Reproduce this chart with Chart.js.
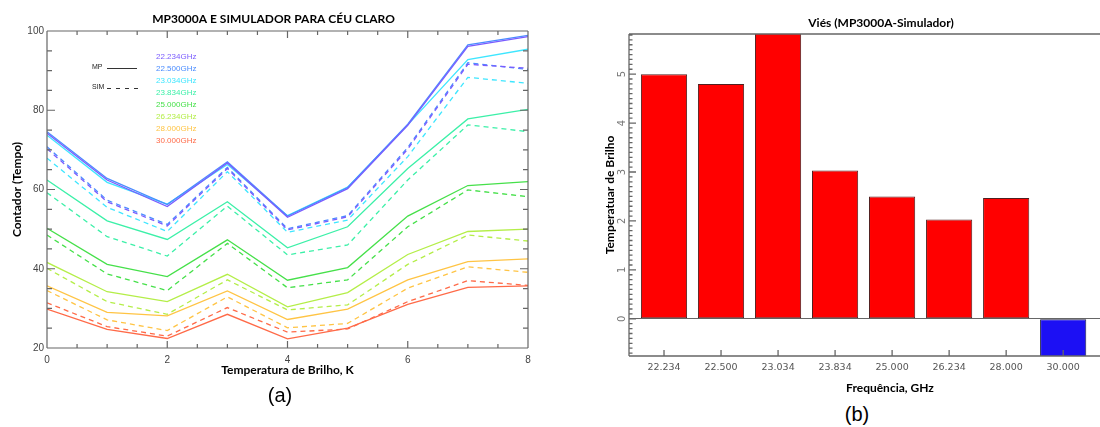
<!DOCTYPE html>
<html>
<head>
<meta charset="utf-8">
<script src="https://cdn.jsdelivr.net/npm/chart.js@4.4.1/dist/chart.umd.min.js"></script>
<style>
    html, body { margin: 0; padding: 0; background: #fff; overflow: hidden; width: 1100px; height: 427px; }
    .wrap { position: absolute; }
    #wrapA { left: 0; top: 0; width: 547px; height: 385px; }
    #wrapB { left: 580px; top: 0; width: 602px; height: 400px; }
    .cap { position: absolute; font: 20px 'Liberation Sans', Arial, sans-serif; color: #000; transform: translate(-50%, -50%); }
</style>
</head>
<body>
<div class="wrap" id="wrapA"><canvas id="chartA"></canvas></div>
<div class="wrap" id="wrapB"><canvas id="chartB"></canvas></div>
<div class="cap" style="left:280px; top:395px;">(a)</div>
<div class="cap" style="left:857px; top:414px;">(b)</div>
<script>
// (a) contador vs temperatura de brilho
const tempX = [0, 1, 2, 3, 4, 5, 6, 7, 8];
const freqNames = ['22.234GHz', '22.500GHz', '23.034GHz', '23.834GHz', '25.000GHz', '26.234GHz', '28.000GHz', '30.000GHz'];
const freqColors = ['#7a5cff', '#4a8cff', '#3ee6ff', '#3cf0a8', '#46e04a', '#b4ee48', '#ffc444', '#ff6a48'];

const mp22234 = [74.2, 62.4, 55.7, 66.7, 53.0, 60.2, 76.2, 96.1, 98.6];
const mp22500 = [74.6, 62.8, 56.2, 67.0, 53.3, 60.5, 76.5, 96.5, 98.9];
const mp23034 = [73.7, 61.8, 56.3, 66.3, 53.4, 60.6, 76.3, 92.8, 95.4];
const mp23834 = [62.4, 52.1, 47.4, 56.9, 45.3, 50.6, 65.3, 77.8, 80.2];
const mp25000 = [50.2, 41.1, 38.0, 47.3, 37.1, 40.3, 53.3, 61.0, 62.0];
const mp26234 = [41.6, 34.2, 31.7, 38.6, 30.4, 34.0, 43.6, 49.4, 50.0];
const mp28000 = [35.7, 29.0, 28.1, 34.4, 27.2, 29.8, 37.2, 41.8, 42.5];
const mp30000 = [29.8, 24.7, 22.4, 28.5, 22.3, 25.0, 31.0, 35.3, 35.7];

const sim22234 = [70.3, 56.9, 50.8, 65.3, 49.8, 53.1, 70.2, 91.6, 90.6];
const sim22500 = [70.8, 57.3, 51.2, 65.6, 50.1, 53.4, 70.6, 92.0, 90.3];
const sim23034 = [67.9, 55.5, 49.4, 64.5, 49.2, 52.3, 68.3, 88.3, 86.8];
const sim23834 = [59.2, 48.1, 43.2, 55.8, 43.5, 46.0, 62.4, 76.3, 74.6];
const sim25000 = [48.5, 38.7, 34.5, 46.4, 35.2, 37.2, 50.6, 59.9, 58.2];
const sim26234 = [40.1, 31.7, 28.5, 37.2, 29.6, 30.9, 41.1, 48.5, 47.0];
const sim28000 = [34.5, 27.1, 24.4, 32.9, 25.1, 26.2, 35.1, 40.5, 39.1];
const sim30000 = [31.4, 25.4, 23.0, 30.2, 24.0, 24.8, 31.7, 37.0, 35.8];

const mpSeries = [mp22234, mp22500, mp23034, mp23834, mp25000, mp26234, mp28000, mp30000];
const simSeries = [sim22234, sim22500, sim23034, sim23834, sim25000, sim26234, sim28000, sim30000];

// (b) vies MP3000A - simulador
const biasLabels = ['22.234', '22.500', '23.034', '23.834', '25.000', '26.234', '28.000', '30.000'];
const biasValues = [5.0, 4.8, 6.0, 3.03, 2.5, 2.03, 2.47, -0.9];

const titleFont = { family: 'Lato', size: 12, weight: 'bold' };

// ticks pointing inward, like the IDL / plot frames
const frameTicks = {
    id: 'frameTicks',
    afterDraw(chart, args, o) {
        const { ctx, chartArea: a, scales: { x, y } } = chart;
        ctx.save();
        ctx.strokeStyle = o.color;
        ctx.lineWidth = o.width;
        ctx.beginPath();
        o.lines.forEach(side => {
            if (side === 'left') { ctx.moveTo(a.left, a.top); ctx.lineTo(a.left, a.bottom); }
            if (side === 'right') { ctx.moveTo(a.right, a.top); ctx.lineTo(a.right, a.bottom); }
            if (side === 'top') { ctx.moveTo(a.left, a.top); ctx.lineTo(a.right, a.top); }
            if (side === 'bottom') { ctx.moveTo(a.left, a.bottom); ctx.lineTo(a.right, a.bottom); }
        });
        const yTick = (v, len) => {
            const py = y.getPixelForValue(v);
            if (py < a.top - 0.5 || py > a.bottom + 0.5) return;
            if (o.ySides.includes('left')) { ctx.moveTo(a.left, py); ctx.lineTo(a.left + len, py); }
            if (o.ySides.includes('right')) { ctx.moveTo(a.right, py); ctx.lineTo(a.right - len, py); }
        };
        const xTick = (v, len) => {
            const px = x.getPixelForValue(v);
            if (px < a.left - 0.5 || px > a.right + 0.5) return;
            if (o.xSides.includes('bottom')) { ctx.moveTo(px, a.bottom); ctx.lineTo(px, a.bottom - len); }
            if (o.xSides.includes('top')) { ctx.moveTo(px, a.top); ctx.lineTo(px, a.top + len); }
        };
        for (let v = o.yFrom; v <= o.yTo + 1e-9; v += o.yMinor) {
            const r = Math.round(v * 1000) / 1000;
            const major = Math.abs(r / o.yMajor - Math.round(r / o.yMajor)) < 1e-6;
            yTick(r, major ? o.yMajorLen : o.yMinorLen);
        }
        for (let v = o.xFrom; v <= o.xTo + 1e-9; v += o.xMinor) {
            const r = Math.round(v * 1000) / 1000;
            const major = Math.abs(r / o.xMajor - Math.round(r / o.xMajor)) < 1e-6;
            xTick(r, major ? o.xMajorLen : o.xMinorLen);
        }
        ctx.stroke();
        ctx.restore();
    }
};

// legenda dentro do grafico (a)
const insideLegend = {
    id: 'insideLegend',
    afterDraw(chart) {
        const { ctx, chartArea: a } = chart;
        ctx.save();
        ctx.font = "7px 'Liberation Sans', Arial, sans-serif";
        ctx.textBaseline = 'middle';
        ctx.fillStyle = '#222';
        ctx.fillText('MP', a.left + 45, a.top + 36);
        ctx.fillText('SIM', a.left + 45, a.top + 56);
        ctx.strokeStyle = '#333';
        ctx.lineWidth = 1;
        ctx.beginPath();
        ctx.moveTo(a.left + 60, a.top + 37.5); ctx.lineTo(a.left + 90, a.top + 37.5);
        ctx.stroke();
        ctx.setLineDash([4, 5]);
        ctx.beginPath();
        ctx.moveTo(a.left + 60, a.top + 57.5); ctx.lineTo(a.left + 91, a.top + 57.5);
        ctx.stroke();
        ctx.font = "8px 'Liberation Sans', Arial, sans-serif";
        freqNames.forEach((name, i) => {
            ctx.fillStyle = freqColors[i];
            ctx.fillText(name, a.left + 109, a.top + 25.7 + 12 * i);
        });
        ctx.restore();
    }
};

const datasetsA = [];
freqNames.forEach((name, i) => {
    datasetsA.push({
        label: name + ' MP',
        data: tempX.map((x, j) => ({ x, y: mpSeries[i][j] })),
        borderColor: freqColors[i],
        borderWidth: 1.3,
        pointRadius: 0,
        tension: 0,
        fill: false
    });
    datasetsA.push({
        label: name + ' SIM',
        data: tempX.map((x, j) => ({ x, y: simSeries[i][j] })),
        borderColor: freqColors[i],
        borderWidth: 1.3,
        borderDash: [5, 4],
        pointRadius: 0,
        tension: 0,
        fill: false
    });
});

const tickFontA = { family: 'Liberation Sans', size: 10 };

new Chart(document.getElementById('chartA'), {
    type: 'line',
    data: { datasets: datasetsA },
    options: {
        responsive: true,
        maintainAspectRatio: false,
        animation: false,
        layout: { padding: 0 },
        plugins: {
            legend: { display: false },
            tooltip: { enabled: false },
            title: {
                display: true,
                text: 'MP3000A E SIMULADOR PARA CÉU CLARO',
                color: '#000',
                font: titleFont,
                padding: { top: 12, bottom: 4.6 }
            },
            frameTicks: {
                color: '#666', width: 1.2,
                lines: ['left', 'right', 'top', 'bottom'],
                ySides: ['left', 'right'], xSides: ['bottom', 'top'],
                yFrom: 20, yTo: 100, yMinor: 5, yMajor: 20, yMinorLen: 5, yMajorLen: 8,
                xFrom: 0, xTo: 8, xMinor: 0.5, xMajor: 2, xMinorLen: 4, xMajorLen: 7
            }
        },
        scales: {
            x: {
                type: 'linear', min: 0, max: 8,
                ticks: { stepSize: 2, padding: 6, color: '#444', font: tickFontA, maxRotation: 0 },
                grid: { display: false, drawTicks: false },
                border: { display: false },
                title: { display: true, text: 'Temperatura de Brilho, K', color: '#000', font: titleFont, padding: { top: 0, bottom: 7.8 } },
                afterFit: s => { s.height = 37; }
            },
            y: {
                min: 20, max: 100,
                ticks: { stepSize: 20, padding: 3, color: '#444', font: tickFontA },
                grid: { display: false, drawTicks: false },
                border: { display: false },
                title: { display: true, text: 'Contador (Tempo)', color: '#000', font: titleFont, padding: { top: 9.8, bottom: 0 } },
                afterFit: s => { s.width = 47; }
            },
            yPad: {
                position: 'right',
                ticks: { display: false },
                grid: { display: false, drawTicks: false },
                border: { display: false },
                afterFit: s => { s.width = 19; }
            }
        }
    },
    plugins: [frameTicks, insideLegend]
});

const tickFontB = { family: 'DejaVu Sans', size: 9.5 };

new Chart(document.getElementById('chartB'), {
    type: 'bar',
    data: {
        datasets: [{
            label: 'Viés',
            data: biasValues.map((v, i) => ({ x: i, y: v })),
            backgroundColor: biasValues.map(v => v < 0 ? '#1c10f4' : '#ff0000'),
            borderColor: biasValues.map(v => v < 0 ? '#202040' : '#502020'),
            borderWidth: 1,
            borderSkipped: false,
            categoryPercentage: 1,
            barPercentage: 0.81
        }]
    },
    options: {
        responsive: true,
        maintainAspectRatio: false,
        animation: false,
        layout: { padding: 0 },
        plugins: {
            legend: { display: false },
            tooltip: { enabled: false },
            title: {
                display: true,
                text: 'Viés (MP3000A-Simulador)',
                color: '#000',
                font: titleFont,
                padding: { top: 15.8, bottom: 3.8 }
            },
            frameTicks: {
                color: '#666', width: 1.3,
                lines: ['left', 'top', 'bottom'],
                ySides: ['left'], xSides: ['bottom'],
                yFrom: -0.7, yTo: 5.8, yMinor: 0.1, yMajor: 1, yMinorLen: 3.5, yMajorLen: 7,
                xFrom: 0, xTo: 7, xMinor: 1, xMajor: 1, xMinorLen: 6, xMajorLen: 6
            }
        },
        scales: {
            x: {
                type: 'linear', min: -0.614, max: 8.54, offset: false,
                afterBuildTicks: s => { s.ticks = biasLabels.map((_, i) => ({ value: i })); },
                ticks: { callback: v => biasLabels[v], padding: 5.5, color: '#555', font: tickFontB, maxRotation: 0, autoSkip: false },
                grid: { display: false, drawTicks: false, offset: false },
                border: { display: false },
                title: { display: true, text: 'Frequência, GHz', color: '#000', font: titleFont, padding: { top: 0, bottom: 4.8 } },
                afterFit: s => { s.height = 44; }
            },
            y: {
                min: -0.76, max: 5.82,
                afterBuildTicks: s => { s.ticks = [0, 1, 2, 3, 4, 5].map(v => ({ value: v })); },
                ticks: { minRotation: 90, maxRotation: 90, crossAlign: 'center', padding: 3.7, color: '#777', font: { family: 'DejaVu Sans', size: 10 } },
                grid: { drawTicks: false, lineWidth: 1, color: c => (c.tick && c.tick.value === 0) ? '#666' : 'transparent' },
                border: { display: false },
                title: { display: true, text: 'Temperatuar de Brilho', color: '#000', font: titleFont, padding: { top: 22.8, bottom: 0 } },
                afterFit: s => { s.width = 49; }
            },
            yPad: {
                position: 'right',
                ticks: { display: false },
                grid: { display: false, drawTicks: false },
                border: { display: false },
                afterFit: s => { s.width = 31; }
            }
        }
    },
    plugins: [frameTicks]
});
</script>
</body>
</html>
